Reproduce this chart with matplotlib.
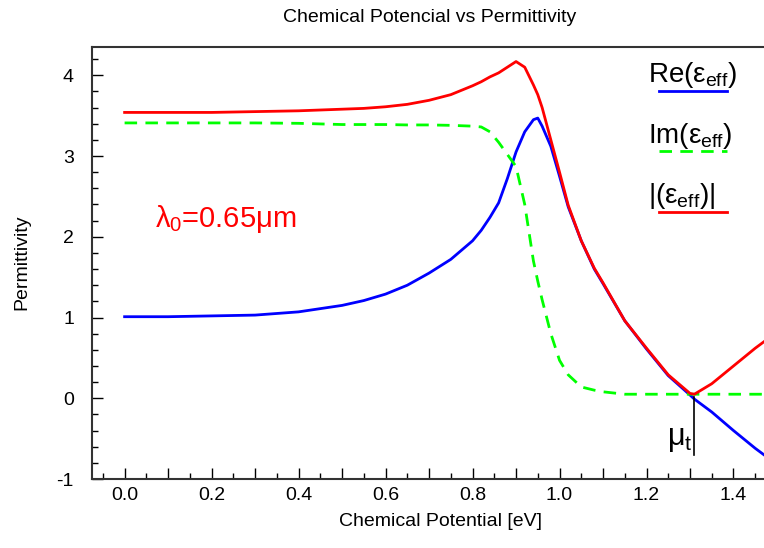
import numpy as np
import matplotlib
matplotlib.use('Agg')
import matplotlib.pyplot as plt
from matplotlib.lines import Line2D
from matplotlib.ticker import MultipleLocator

plt.rcParams['font.family'] = ['Liberation Sans', 'DejaVu Sans']
plt.rcParams['mathtext.fontset'] = 'custom'
plt.rcParams['mathtext.rm'] = 'Liberation Sans'
plt.rcParams['mathtext.it'] = 'Liberation Sans'
plt.rcParams['mathtext.bf'] = 'Liberation Sans:bold'
plt.rcParams['axes.unicode_minus'] = False

# chemical potential [eV]
mu = [0.0, 0.1, 0.2, 0.3, 0.4, 0.5, 0.55, 0.6, 0.65, 0.7, 0.75, 0.8, 0.82, 0.84,
      0.86, 0.88, 0.9, 0.92, 0.94, 0.95, 0.96, 0.98, 1.0, 1.02, 1.05, 1.08, 1.1,
      1.15, 1.2, 1.25, 1.3, 1.31, 1.35, 1.4, 1.45, 1.5]

re_eps = [1.01, 1.01, 1.02, 1.03, 1.07, 1.15, 1.21, 1.29, 1.40, 1.55, 1.72, 1.95,
          2.08, 2.24, 2.42, 2.72, 3.05, 3.30, 3.45, 3.47, 3.37, 3.12, 2.75, 2.37,
          1.95, 1.60, 1.42, 0.96, 0.61, 0.28, 0.04, -0.01, -0.17, -0.40, -0.62, -0.82]

im_eps = [3.41, 3.41, 3.41, 3.41, 3.405, 3.39, 3.39, 3.39, 3.385, 3.385, 3.38, 3.37,
          3.36, 3.30, 3.17, 3.02, 2.87, 2.40, 1.70, 1.45, 1.22, 0.80, 0.47, 0.29,
          0.14, 0.10, 0.08, 0.05, 0.05, 0.05, 0.05, 0.05, 0.05, 0.05, 0.05, 0.05]

abs_eps = [3.54, 3.54, 3.54, 3.55, 3.56, 3.58, 3.59, 3.61, 3.64, 3.69, 3.76, 3.87,
           3.92, 3.98, 4.03, 4.10, 4.17, 4.10, 3.88, 3.76, 3.60, 3.20, 2.80, 2.39,
           1.95, 1.61, 1.43, 0.96, 0.62, 0.29, 0.06, 0.05, 0.18, 0.40, 0.62, 0.82]

mu_t = 1.31

fig = plt.figure(figsize=(7.64, 5.48), dpi=100)
ax = fig.add_axes([0.1204, 0.1259, 0.8966, 0.7883])

ax.plot(mu, re_eps, color='#0000ff', lw=2)
ax.plot(mu, im_eps, color='#00ff00', lw=2, dashes=(4.5, 3))
ax.plot(mu, abs_eps, color='#ff0000', lw=2)

# transition point
ax.plot([mu_t, mu_t], [0.02, -0.70], color='black', lw=1.2)
ax.text(mu_t - 0.004, -0.58, r'$\mu_t$', ha='right', va='baseline', fontsize=22)

ax.text(0.07, 2.22, r'$\lambda_0$=0.65$\mu$m', color='#ff0000', fontsize=21,
        va='center', ha='left')

ax.set_xlim(-0.075, 1.5)
ax.set_ylim(-1, 4.35)
xt = np.round(np.arange(0, 1.51, 0.1), 2)
ax.set_xticks(xt)
ax.set_xticklabels([f'{v:.1f}' if i % 2 == 0 else '' for i, v in enumerate(xt)])
ax.xaxis.set_minor_locator(MultipleLocator(0.05))
ax.set_yticks([-1, 0, 1, 2, 3, 4])
ax.yaxis.set_minor_locator(MultipleLocator(0.2))
ax.tick_params(which='both', direction='in', top=False, right=False,
               labelsize=14, width=1)
ax.tick_params(which='major', length=8)
ax.tick_params(which='minor', length=4)
ax.tick_params(axis='x', which='major', pad=6)
ax.tick_params(axis='y', which='major', pad=13)
for s in ax.spines.values():
    s.set_linewidth(1.5)
    s.set_color('#333333')

W, H = 764, 548
fig.text(440 / W, 1 - 522 / H, 'Chemical Potential [eV]', ha='center',
         va='center', fontsize=14)
fig.text(22 / W, 1 - 262 / H, 'Permittivity', ha='center', va='center',
         rotation=90, fontsize=14)
fig.text(430 / W, 1 - 18 / H, 'Chemical Potencial vs Permittivity', ha='center',
         va='center', fontsize=14)

# legend drawn by hand: label with a line sample underneath
legend = [
    (r'Re$(\varepsilon_{\mathrm{eff}})$', '#0000ff', 82, 91, None),
    (r'Im$(\varepsilon_{\mathrm{eff}})$', '#00ff00', 143, 151, (4.5, 3)),
    (r'$|(\varepsilon_{\mathrm{eff}})|$', '#ff0000', 203, 212, None),
]
for label, col, yb, yl, dash in legend:
    fig.text(648 / W, 1 - yb / H, label, fontsize=20, ha='left', va='baseline')
    ln = Line2D([659 / W, 727 / W], [1 - yl / H, 1 - yl / H], color=col, lw=2,
                transform=fig.transFigure)
    if dash:
        ln.set_dashes(dash)
    fig.add_artist(ln)

plt.savefig('out.png', dpi=100)
